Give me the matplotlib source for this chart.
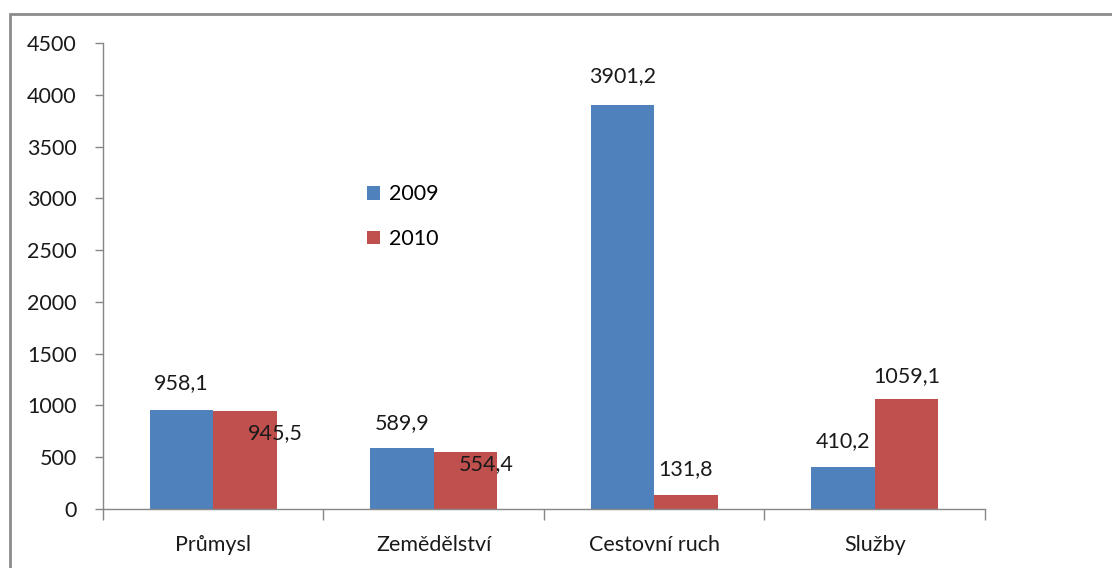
import matplotlib
matplotlib.use("Agg")
import matplotlib.pyplot as plt
from matplotlib.patches import Rectangle
import numpy as np

categories = ["Průmysl", "Zemědělství", "Cestovní ruch", "Služby"]
series_names = ["2009", "2010"]
values_2009 = [958.1, 589.9, 3901.2, 410.2]
values_2010 = [945.5, 554.4, 131.8, 1059.1]
y_ticks = [0, 500, 1000, 1500, 2000, 2500, 3000, 3500, 4000, 4500]

colors = ["#4F81BD", "#C0504D"]
# label offsets in points (dx, dy) relative to top-centre of each bar
offsets_2009 = [(0, 19), (0, 18), (0, 21), (0, 18)]
offsets_2010 = [(22, -16), (15, -9), (0, 19), (0, 17)]

plt.rcParams['font.family'] = ['Lato', 'DejaVu Sans']
FS = 15.5
fig = plt.figure(figsize=(11.12, 5.68), dpi=100)
W, H = 1112, 568
ax = fig.add_axes([103 / W, 1 - 509 / H, (985 - 103) / W, (509 - 43) / H])

x = np.arange(len(categories))
bw = 0.288
b1 = ax.bar(x - bw / 2, values_2009, bw, color=colors[0], label=series_names[0])
b2 = ax.bar(x + bw / 2, values_2010, bw, color=colors[1], label=series_names[1])

def fmt(v):
    return f"{v:.1f}".replace(".", ",")

for bars, vals, offs in [(b1, values_2009, offsets_2009), (b2, values_2010, offsets_2010)]:
    for rect, v, (dx, dy) in zip(bars, vals, offs):
        ax.annotate(fmt(v), (rect.get_x() + rect.get_width() / 2, v),
                    xytext=(dx, dy), textcoords="offset points",
                    ha="center", va="center", fontsize=FS, color="#1a1a1a")

ax.set_xlim(-0.5, len(categories) - 0.5)
ax.set_ylim(0, 4500)
ax.set_yticks(y_ticks)
ax.set_yticklabels([str(t) for t in y_ticks], fontsize=FS, color="#1a1a1a")
ax.set_xticks(x)
ax.set_xticklabels(categories, fontsize=FS, color="#1a1a1a")
ax.tick_params(axis="x", length=0, pad=19)
ax.set_xticks(np.arange(-0.5, len(categories)), minor=True)
ax.tick_params(axis="x", which="minor", length=8, color="#868686", width=1)
ax.tick_params(axis="y", length=6, color="#868686", width=1, pad=13)
for s in ["top", "right"]:
    ax.spines[s].set_visible(False)
for s in ["left", "bottom"]:
    ax.spines[s].set_color("#868686")
    ax.spines[s].set_linewidth(1)

leg = fig.legend(handles=[b1, b2], labels=series_names, loc="upper left",
                 bbox_to_anchor=(348 / W, 1 - 165 / H), frameon=False,
                 fontsize=FS, handlelength=0.6, handleheight=0.6,
                 handletextpad=0.4, labelspacing=1.15)

fig.add_artist(Rectangle((10 / W, -0.1), 1.2, 1.1 - 14 / H, transform=fig.transFigure,
                         fill=False, edgecolor="#8c8c8c", linewidth=2))

fig.savefig("out.png", dpi=100)
